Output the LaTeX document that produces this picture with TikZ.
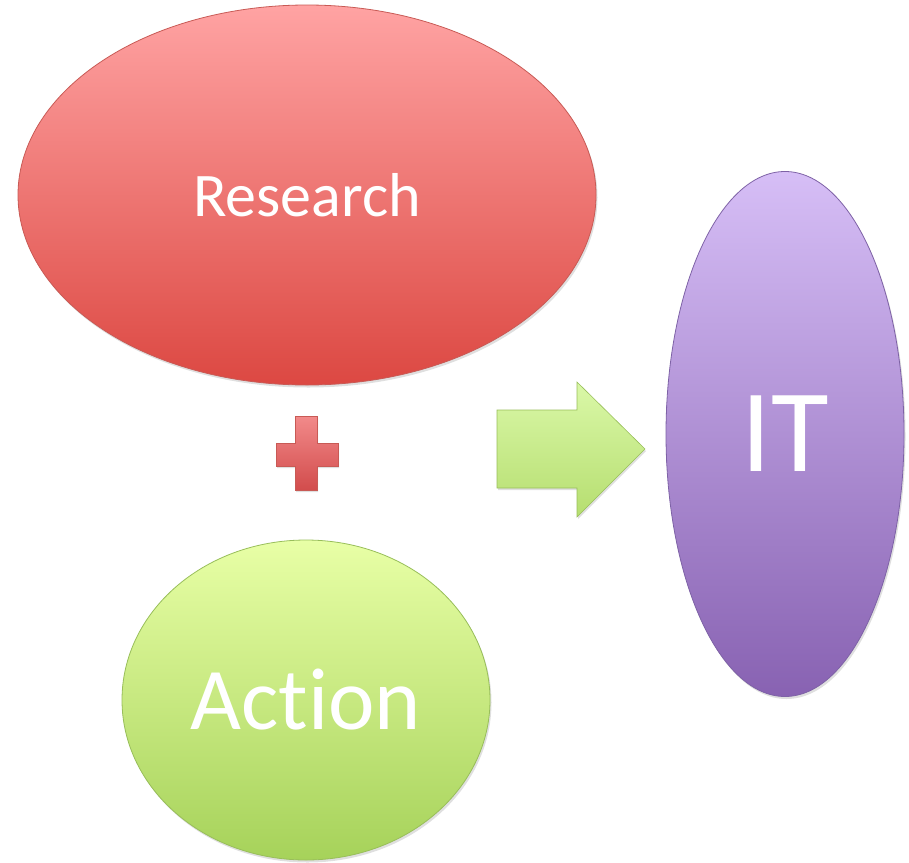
\documentclass[tikz,border=0pt]{standalone}
\usepackage{fontspec}
\setmainfont{Carlito}[Ligatures={NoCommon}]
\usetikzlibrary{shapes.geometric,shadows}

\definecolor{redtop}{HTML}{FFA3A3}
\definecolor{redbot}{HTML}{DC4842}
\definecolor{redline}{HTML}{C85A55}
\definecolor{greentop}{HTML}{E8FFA6}
\definecolor{greenbot}{HTML}{A6D25A}
\definecolor{greenline}{HTML}{98BE5A}
\definecolor{purptop}{HTML}{D6BEF6}
\definecolor{purpbot}{HTML}{8862B2}
\definecolor{purpline}{HTML}{7E62A6}
\definecolor{plustop}{HTML}{F28A8A}
\definecolor{plusbot}{HTML}{D24C4C}
\definecolor{arrowtop}{HTML}{DAF8A8}
\definecolor{arrowbot}{HTML}{B6DE70}

\tikzset{
  blob/.style={ellipse, inner sep=0pt, text=white, line width=0.8pt,
    drop shadow={opacity=0.25, shadow xshift=1.5pt, shadow yshift=-2.5pt}},
  redblob/.style={blob, draw=redline, top color=redtop, bottom color=redbot},
  greenblob/.style={blob, draw=greenline, top color=greentop, bottom color=greenbot},
  purpblob/.style={blob, draw=purpline, top color=purptop, bottom color=purpbot},
  plusshape/.style={top color=plustop, bottom color=plusbot, draw=redline,
    line width=0.6pt,
    drop shadow={opacity=0.25, shadow xshift=1pt, shadow yshift=-2pt}},
  arrowshape/.style={top color=arrowtop, bottom color=arrowbot, draw=greenline,
    line width=0.6pt, drop shadow={opacity=0.25, shadow xshift=1pt, shadow yshift=-2pt}}
}

\begin{document}
\begin{tikzpicture}[x=1pt, y=-1pt]
  \useasboundingbox (0,0) rectangle (909,862);

  % the three ellipses
  \node[redblob, minimum width=578pt, minimum height=380pt] (research) at (307,195)
    {\fontsize{62}{62}\selectfont Research};
  \node[greenblob, minimum width=368pt, minimum height=320pt] (action) at (306,700)
    {\fontsize{88}{88}\selectfont Action};
  \node[purpblob, minimum width=238pt, minimum height=525pt] (it) at (785,434)
    {\fontsize{118}{118}\selectfont IT};

  % plus sign between the two left ellipses
  \path[plusshape] (295,416) -- (317,416) -- (317,443) -- (338,443) -- (338,466)
    -- (317,466) -- (317,490) -- (295,490) -- (295,466) -- (276,466)
    -- (276,443) -- (295,443) -- cycle;

  % block arrow pointing at IT
  \path[arrowshape] (497,410) -- (577,410) -- (577,382) -- (645,449)
    -- (577,517) -- (577,488) -- (497,488) -- cycle;
\end{tikzpicture}
\end{document}
